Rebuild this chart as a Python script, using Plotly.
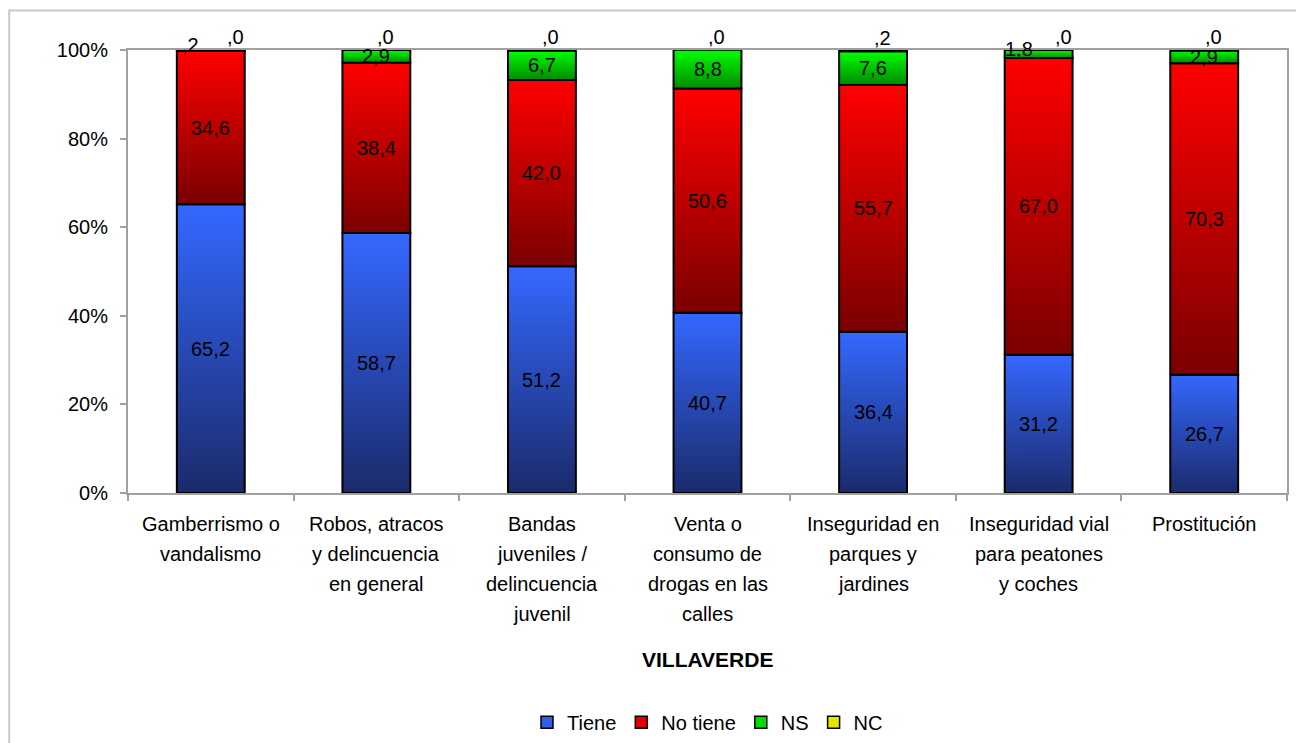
import plotly.graph_objects as go

# Data (percentages)
categories = [
    ["Gamberrismo o", "vandalismo"],
    ["Robos, atracos", "y delincuencia", "en general"],
    ["Bandas", "juveniles /", "delincuencia", "juvenil"],
    ["Venta o", "consumo de", "drogas en las", "calles"],
    ["Inseguridad en", "parques y", "jardines"],
    ["Inseguridad vial", "para peatones", "y coches"],
    ["Prostitución"],
]
tiene = [65.2, 58.7, 51.2, 40.7, 36.4, 31.2, 26.7]
no_tiene = [34.6, 38.4, 42.0, 50.6, 55.7, 67.0, 70.3]
ns = [0.2, 2.9, 6.7, 8.8, 7.6, 1.8, 2.9]
nc = [0.0, 0.0, 0.0, 0.0, 0.2, 0.0, 0.0]
series_names = ["Tiene", "No tiene", "NS", "NC"]
y_ticks = [0, 20, 40, 60, 80, 100]
y_ticktext = [f"{v}%" for v in y_ticks]
x_title = "VILLAVERDE"

FONT = "Arial, Liberation Sans, sans-serif"
# (dark bottom, light top) for each series gradient, plus legend swatch
grad = [("#1b2a6b", "#3468ff"), ("#7a0000", "#ff0000"),
        ("#008a00", "#00ff00"), ("#8a8a00", "#ffff00")]
swatch = ["#2f5ee8", "#e40000", "#00dc00", "#e6e600"]
half_w = 0.205


def fmt(v):
    s = f"{v:.1f}".replace(".", ",")
    if s.startswith("0,"):
        s = s[1:]
    return s


fig = go.Figure()
series = [tiene, no_tiene, ns, nc]
annotations = []

for i in range(len(categories)):
    base = 0.0
    for k, vals in enumerate(series):
        v = vals[i]
        top = round(base + v, 6)
        fig.add_trace(go.Scatter(
            x=[i - half_w, i + half_w, i + half_w, i - half_w, i - half_w],
            y=[base, base, top, top, base],
            mode="lines", fill="toself",
            fillgradient=dict(type="vertical",
                              colorscale=[[0, grad[k][0]], [1, grad[k][1]]]),
            line=dict(color="black", width=2),
            showlegend=False, hoverinfo="skip",
        ))
        # data label (kept inside the axis range so it is not hidden)
        thin = ns[i] < 2.5
        xs, ys, ya = 0, 0, "middle"
        if k == 2 and thin:
            xs, ys = -20, 5
        if k == 3:
            ya = "bottom"
            xs = 25 if thin else 9
        annotations.append(dict(
            x=i, y=min((base + top) / 2, 100), xref="x", yref="y",
            text=fmt(v), showarrow=False, xshift=xs, yshift=ys, yanchor=ya,
            font=dict(family=FONT, size=20, color="black"),
        ))
        base = top

# legend entries (square swatches)
for k, name in enumerate(series_names):
    fig.add_trace(go.Bar(
        x=[None], y=[None], name=name,
        marker=dict(color=swatch[k], line=dict(color="black", width=1.5)),
    ))

# category labels, one line at a time
for i, lines in enumerate(categories):
    for j, line in enumerate(lines):
        annotations.append(dict(
            x=i, y=0, xref="x", yref="paper", text=line, showarrow=False,
            yanchor="middle", yshift=-31 - 30 * j,
            font=dict(family=FONT, size=20, color="black"),
        ))

annotations.append(dict(
    x=0.5, y=0, xref="paper", yref="paper", text="<b>" + x_title + "</b>",
    showarrow=False, yanchor="middle", yshift=-166,
    font=dict(family=FONT, size=21, color="black"),
))

fig.update_layout(
    width=1296, height=743,
    margin=dict(l=128, r=7, t=50, b=250),
    paper_bgcolor="white", plot_bgcolor="white",
    font=dict(family=FONT, size=20, color="black"),
    annotations=annotations,
    showlegend=True,
    legend=dict(orientation="h", x=0.5, xanchor="center",
                yref="container", y=0.028, yanchor="middle",
                font=dict(family=FONT, size=20), itemwidth=30,
                tracegroupgap=0),
    shapes=[dict(type="rect", xref="paper", yref="paper",
                 x0=-0.1025, x1=1.5, y0=-1.0, y1=1.089,
                 line=dict(color="#c8c8c8", width=2), layer="below")],
)

fig.update_xaxes(
    range=[-0.5, len(categories) - 0.5],
    tickvals=list(range(len(categories))), showticklabels=False, ticks="",
    minor=dict(ticks="outside", tick0=0.5, dtick=1, ticklen=6,
               tickcolor="#a0a0a0", tickwidth=2),
    showline=True, linecolor="#a0a0a0", linewidth=2, mirror=True,
    showgrid=False, zeroline=False, fixedrange=True,
)
fig.update_yaxes(
    range=[0, 100], tickvals=y_ticks, ticktext=y_ticktext,
    ticks="outside", ticklen=6, tickcolor="#a0a0a0", tickwidth=2,
    ticklabelstandoff=8,
    showline=True, linecolor="#a0a0a0", linewidth=2, mirror=True,
    showgrid=False, zeroline=False, fixedrange=True,
)

fig.write_html("out.html", config={"displayModeBar": False},
               post_script="document.body.style.margin='0';")
